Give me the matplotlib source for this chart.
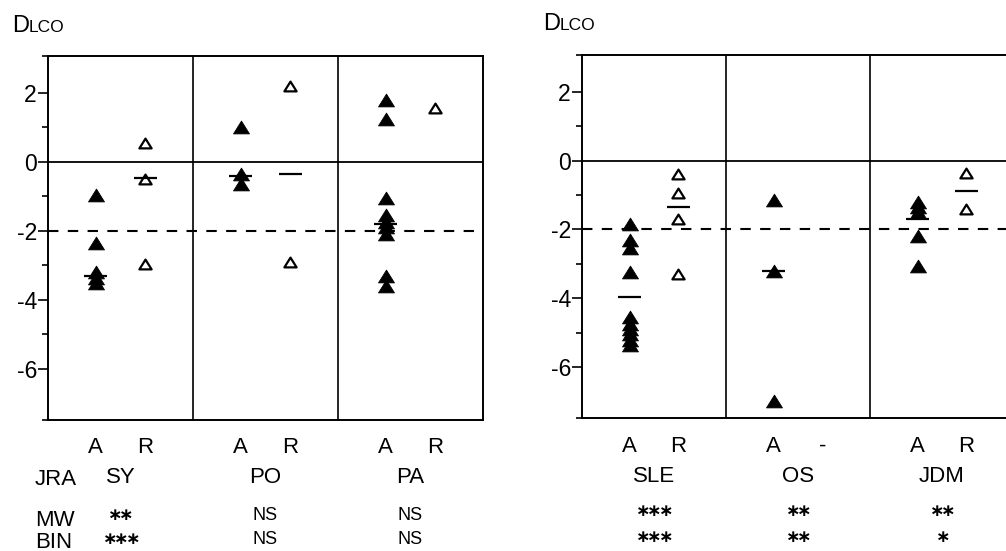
import matplotlib
matplotlib.use("Agg")
import matplotlib.pyplot as plt
from matplotlib.path import Path
from matplotlib.transforms import blended_transform_factory

plt.rcParams["font.family"] = ["Liberation Sans", "DejaVu Sans"]
plt.rcParams["axes.unicode_minus"] = False

W, H = 1006, 551

# left chart: juvenile rheumatoid arthritis subgroups
left_groups = ["SY", "PO", "PA"]
left_a = [
    [-0.95, -2.35, -3.2, -3.35, -3.5],
    [1.0, -0.35, -0.65],
    [1.8, 1.25, -1.05, -1.55, -1.75, -1.9, -2.1, -3.3, -3.6],
]
left_a_mid = [-3.3, -0.4, -1.8]
left_r = [[0.55, -0.5, -2.95], [2.2, -2.9], [1.55]]
left_r_mid = [-0.48, -0.35, None]
left_r_labels = ["R", "R", "R"]
left_mw = ["**", "NS", "NS"]
left_bin = ["***", "NS", "NS"]

# right chart
right_groups = ["SLE", "OS", "JDM"]
right_a = [
    [-1.85, -2.3, -2.55, -3.25, -4.55, -4.75, -4.9, -5.05, -5.2, -5.35],
    [-1.15, -3.2, -7.0],
    [-1.2, -1.35, -1.5, -2.2, -3.05],
]
right_a_mid = [-3.95, -3.2, -1.7]
right_r = [[-0.4, -0.93, -1.7, -3.3], [], [-0.35, -1.4]]
right_r_mid = [-1.35, None, -0.88]
right_r_labels = ["R", "-", "R"]
right_mw = ["***", "**", "**"]
right_bin = ["***", "**", "*"]

y_major = [-6, -4, -2, 0, 2]
y_lim = (-7.48, 3.07)
threshold = -2

tri = Path([(-1, -0.8), (1, -0.8), (0, 0.8), (-1, -0.8)], closed=True)
xa, xr = 0.33, 0.67


def draw_chart(ax, a_vals, a_mid, r_vals, r_mid):
    ax.set_xlim(0, 3)
    ax.set_ylim(*y_lim)
    ax.axhline(0, color="black", lw=1.3, zorder=1)
    ax.axhline(threshold, color="black", lw=1.5, dashes=(5, 4.5), zorder=1)
    for k in (1, 2):
        ax.axvline(k, color="black", lw=1.2, zorder=1)
    for i in range(3):
        ax.plot([i + xa] * len(a_vals[i]), a_vals[i], linestyle="none", marker=tri,
                ms=11.5, mfc="black", mec="black", mew=0.6, zorder=3)
        if r_vals[i]:
            ax.plot([i + xr] * len(r_vals[i]), r_vals[i], linestyle="none", marker=tri,
                    ms=8.8, mfc="white", mec="black", mew=1.6, zorder=3)
        if a_mid[i] is not None:
            ax.hlines(a_mid[i], i + xa - 0.08, i + xa + 0.08, color="black", lw=1.6, zorder=4)
        if r_mid[i] is not None:
            ax.hlines(r_mid[i], i + xr - 0.08, i + xr + 0.08, color="black", lw=1.6, zorder=4)
    ax.set_xticks([])
    ax.set_yticks(y_major)
    ax.set_yticks([y_lim[0], -5, -3, -1, 1, y_lim[1]], minor=True)
    ax.tick_params(axis="y", which="major", length=7, width=1.2, pad=1, labelsize=16.5)
    ax.tick_params(axis="y", which="minor", length=4.5, width=1.2)
    for s in ax.spines.values():
        s.set_linewidth(1.4)


def draw_labels(fig, ax, groups, r_labels, mw, bins, base):
    tr = blended_transform_factory(ax.transData, fig.transFigure)
    ab, gb, mb, bb = base
    for i in range(3):
        ax.text(i + xa, 1 - ab / H, "A", transform=tr, ha="center", va="baseline", fontsize=16)
        ax.text(i + xr, 1 - ab / H, r_labels[i], transform=tr, ha="center", va="baseline", fontsize=16)
        ax.text(i + 0.5, 1 - gb / H, groups[i], transform=tr, ha="center", va="baseline", fontsize=16)
        for txt, yc in ((mw[i], mb), (bins[i], bb)):
            if txt == "NS":
                ax.text(i + 0.5, 1 - yc / H, txt, transform=tr, ha="center",
                        va="center", fontsize=13)
            else:
                stars = r"$\mathbf{" + r"\!".join([r"{\ast}"] * len(txt)) + "}$"
                ax.text(i + 0.5, 1 - yc / H, stars, transform=tr, ha="center",
                        va="center", fontsize=12.5)


def dlco(fig, x, y):
    fig.text(x / W, 1 - y / H, "D", fontsize=17, va="baseline")
    fig.text((x + 17) / W, 1 - y / H, "LCO", fontsize=12.5, va="baseline")


fig = plt.figure(figsize=(W / 100, H / 100), dpi=100)
ax1 = fig.add_axes([48 / W, 1 - 420 / H, 435 / W, 364 / H])
ax2 = fig.add_axes([582 / W, 1 - 418 / H, 432 / W, 363 / H])

draw_chart(ax1, left_a, left_a_mid, left_r, left_r_mid)
draw_chart(ax2, right_a, right_a_mid, right_r, right_r_mid)

draw_labels(fig, ax1, left_groups, left_r_labels, left_mw, left_bin, (453, 483, 515, 540))
draw_labels(fig, ax2, right_groups, right_r_labels, right_mw, right_bin, (452, 482, 511, 538))

for txt, yb in (("JRA", 485), ("MW", 526), ("BIN", 548)):
    fig.text(35 / W, 1 - yb / H, txt, fontsize=16, va="baseline")

dlco(fig, 12, 32)
dlco(fig, 543, 30)

fig.savefig("out.png", dpi=100)
